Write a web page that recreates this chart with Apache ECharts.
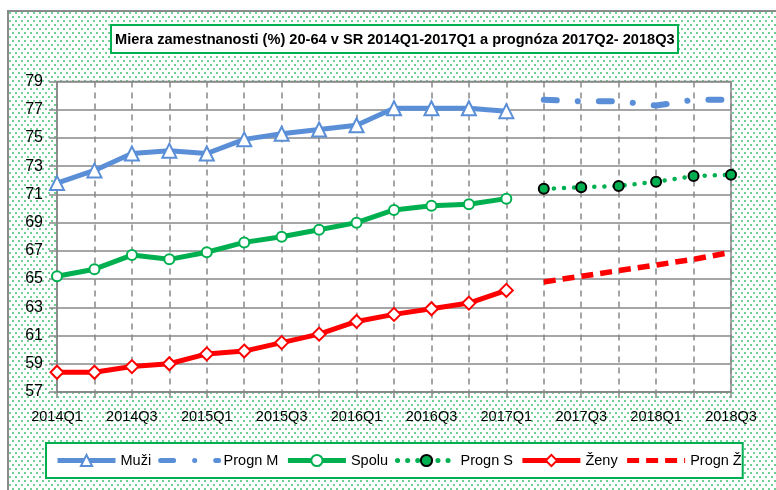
<!DOCTYPE html>
<html>
<head>
<meta charset="utf-8">
<script src="https://cdn.jsdelivr.net/npm/echarts@6/dist/echarts.min.js"></script>
<style>
html,body{margin:0;padding:0;background:#fff;}
#c{width:776px;height:490px;}
</style>
</head>
<body>
<div id="c"></div>
<script>
// ---- data ----
var categories = ['2014Q1','2014Q2','2014Q3','2014Q4','2015Q1','2015Q2','2015Q3','2015Q4',
  '2016Q1','2016Q2','2016Q3','2016Q4','2017Q1','2017Q2','2017Q3','2017Q4','2018Q1','2018Q2','2018Q3'];
var muzi   = [71.8,72.7,73.9,74.1,73.9,74.9,75.3,75.6,75.9,77.1,77.1,77.1,76.9];
var prognM = [77.7,77.6,77.6,77.3,77.7,77.7];
var spolu  = [65.2,65.7,66.7,66.4,66.9,67.6,68.0,68.5,69.0,69.9,70.2,70.3,70.7];
var prognS = [71.4,71.5,71.6,71.9,72.3,72.4];
var zeny   = [58.4,58.4,58.8,59.0,59.7,59.9,60.5,61.1,62.0,62.5,62.9,63.3,64.2];
var prognZ = [64.8,65.2,65.6,66.0,66.4,66.9];
var seriesNames = ['Muži','Progn M','Spolu','Progn S','Ženy','Progn Ž'];
var titleText = 'Miera zamestnanosti (%) 20-64 v SR 2014Q1-2017Q1 a prognóza 2017Q2- 2018Q3';
var yMin = 57, yMax = 79, yStep = 2;

// ---- helpers ----
function hist(a){ var r = a.slice(); while (r.length < categories.length) r.push(null); return r; }
function fut(a){ var r = []; for (var i = 0; i < categories.length - a.length; i++) r.push(null); return r.concat(a); }

var tile = document.createElement('canvas');
tile.width = 6; tile.height = 8;
var tctx = tile.getContext('2d');
tctx.fillStyle = '#ffffff'; tctx.fillRect(0,0,6,8);
tctx.fillStyle = '#72d096';
tctx.fillRect(0,0,2,2); tctx.fillRect(3,4,2,2);

var FONT = "'Liberation Sans','Arial',sans-serif";
var BLUE = '#5A8FD8', GREEN = '#00B050', RED = '#FF0000', GRAY = '#888888';

var legendData = seriesNames.map(function(n){
  if (n === 'Progn M' || n === 'Progn Ž') return {name: n, itemStyle: {opacity: 0}};
  return {name: n};
});

var chart = echarts.init(document.getElementById('c'), null, {renderer:'canvas'});
chart.setOption({
  backgroundColor: '#ffffff',
  animation: false,
  graphic: {elements: [
    {type:'rect', z:-10, shape:{x:8, y:11, width:800, height:520},
     style:{fill:{image: tile, repeat:'repeat'}, stroke:'#8a8a8a', lineWidth:2}}
  ]},
  title: {
    text: titleText, left: 111, top: 25,
    padding: [7,4,6,4],
    backgroundColor: '#fff', borderColor: GREEN, borderWidth: 2,
    textStyle: {fontFamily: FONT, fontWeight: 'bold', fontSize: 14.6, color: '#000'}
  },
  legend: {
    data: legendData, left: 46, top: 443,
    padding: [10,1,10,9], itemGap: 7, itemWidth: 58, itemHeight: 14,
    backgroundColor: '#fff', borderColor: GREEN, borderWidth: 2,
    lineStyle: {width: 5},
    textStyle: {fontFamily: FONT, fontSize: 14.5, color: '#000'}
  },
  grid: {left: 57, right: 45, top: 81.5, bottom: 98, show: true, backgroundColor: '#fff',
         borderColor: GRAY, borderWidth: 1.5, containLabel: false, outerBoundsMode: 'none'},
  xAxis: {
    type: 'category', data: categories, boundaryGap: false,
    axisLine: {lineStyle: {color: GRAY, width: 1.5}},
    axisTick: {show: true, length: 6, interval: 0, lineStyle: {color: GRAY, width: 1.5}},
    axisLabel: {interval: 1, margin: 17, fontFamily: FONT, fontSize: 14.5, color: '#000'},
    splitLine: {show: true, interval: 0, lineStyle: {color: GRAY, width: 1.5, type: [6,5]}}
  },
  yAxis: {
    type: 'value', min: yMin, max: yMax, interval: yStep,
    axisLine: {show: true, lineStyle: {color: GRAY, width: 1.5}},
    axisTick: {show: true, length: 8, lineStyle: {color: GRAY, width: 1.5}},
    axisLabel: {margin: 14, fontFamily: FONT, fontSize: 16, color: '#000'},
    splitLine: {show: true, lineStyle: {color: GRAY, width: 1.5}}
  },
  series: [
    {name:'Muži', type:'line', data: hist(muzi), symbol:'triangle', symbolSize: 14,
     lineStyle:{color: BLUE, width: 5}, itemStyle:{color:'#fff', borderColor: BLUE, borderWidth: 2}, z: 3},
    {name:'Progn M', type:'line', data: fut(prognM), symbol:'none',
     lineStyle:{color: BLUE, width: 6, type:[13,21,0.1,21], cap:'round'}, itemStyle:{color: BLUE}, z: 3},
    {name:'Spolu', type:'line', data: hist(spolu), symbol:'circle', symbolSize: 10,
     lineStyle:{color: GREEN, width: 5}, itemStyle:{color:'#fff', borderColor: GREEN, borderWidth: 2}, z: 3},
    {name:'Progn S', type:'line', data: fut(prognS), symbol:'circle', symbolSize: 10,
     lineStyle:{color: GREEN, width: 4.5, type:[0.1,10], cap:'round'}, itemStyle:{color: GREEN, borderColor:'#000', borderWidth: 2}, z: 3},
    {name:'Ženy', type:'line', data: hist(zeny), symbol:'diamond', symbolSize: 13,
     lineStyle:{color: RED, width: 5}, itemStyle:{color:'#fff', borderColor: RED, borderWidth: 2}, z: 3},
    {name:'Progn Ž', type:'line', data: fut(prognZ), symbol:'none',
     lineStyle:{color: RED, width: 5.5, type:[12,7]}, itemStyle:{color: RED}, z: 3}
  ]
});
</script>
</body>
</html>
